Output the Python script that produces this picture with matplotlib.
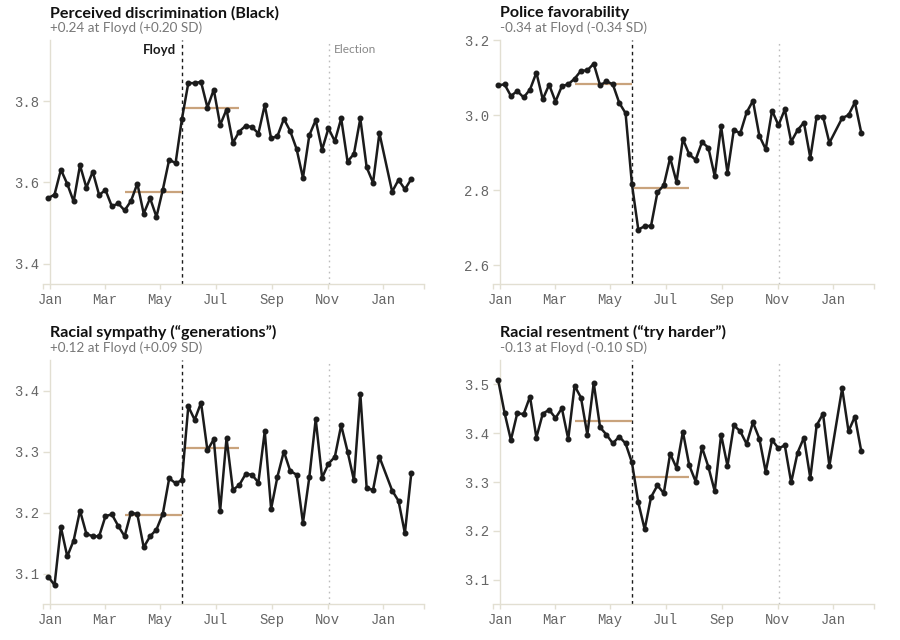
import numpy as np
import pandas as pd
import matplotlib
matplotlib.use("Agg")
import matplotlib.pyplot as plt
import matplotlib.dates as mdates

# weekly survey waves (the week of 2021-01-04 is missing)
weeks = pd.date_range("2019-12-30", periods=58, freq="7D")
weeks = weeks[weeks != pd.Timestamp("2021-01-04")]

floyd_date = pd.Timestamp("2020-05-25")
election_date = pd.Timestamp("2020-11-03")

# windows for the before/after means
pre_window = (pd.Timestamp("2020-03-23"), pd.Timestamp("2020-05-25"))
post_window = (pd.Timestamp("2020-05-27"), pd.Timestamp("2020-07-27"))

titles = [
    "Perceived discrimination (Black)",
    "Police favorability",
    "Racial sympathy (\u201cgenerations\u201d)",
    "Racial resentment (\u201ctry harder\u201d)",
]
subtitles = [
    "+0.24 at Floyd (+0.20 SD)",
    "-0.34 at Floyd (-0.34 SD)",
    "+0.12 at Floyd (+0.09 SD)",
    "-0.13 at Floyd (-0.10 SD)",
]

discrimination = [3.561, 3.570, 3.631, 3.596, 3.553, 3.642, 3.587, 3.626, 3.569, 3.581,
                  3.541, 3.548, 3.531, 3.554, 3.597, 3.523, 3.561, 3.515, 3.582, 3.656,
                  3.647, 3.756, 3.844, 3.844, 3.847, 3.784, 3.828, 3.741, 3.779, 3.697,
                  3.725, 3.739, 3.736, 3.720, 3.790, 3.708, 3.714, 3.756, 3.726, 3.682,
                  3.611, 3.716, 3.753, 3.680, 3.733, 3.701, 3.757, 3.651, 3.670, 3.757,
                  3.637, 3.599, 3.721, 3.577, 3.606, 3.583, 3.608]
police = [3.079, 3.082, 3.051, 3.064, 3.047, 3.068, 3.113, 3.042, 3.081, 3.036,
          3.077, 3.082, 3.097, 3.118, 3.119, 3.137, 3.079, 3.090, 3.082, 3.033,
          3.005, 2.816, 2.695, 2.704, 2.705, 2.794, 2.813, 2.886, 2.822, 2.936,
          2.895, 2.881, 2.928, 2.913, 2.837, 2.970, 2.846, 2.961, 2.951, 3.007,
          3.038, 2.945, 2.909, 3.012, 2.973, 3.015, 2.929, 2.960, 2.980, 2.886,
          2.996, 2.996, 2.926, 2.992, 3.000, 3.034, 2.953]
sympathy = [3.095, 3.081, 3.176, 3.128, 3.154, 3.203, 3.165, 3.161, 3.161, 3.194,
            3.197, 3.178, 3.161, 3.200, 3.197, 3.143, 3.161, 3.172, 3.198, 3.256,
            3.248, 3.253, 3.374, 3.352, 3.380, 3.302, 3.320, 3.203, 3.322, 3.237,
            3.245, 3.263, 3.262, 3.249, 3.333, 3.206, 3.259, 3.300, 3.268, 3.262,
            3.183, 3.258, 3.353, 3.257, 3.280, 3.291, 3.343, 3.300, 3.253, 3.395,
            3.240, 3.237, 3.291, 3.236, 3.219, 3.166, 3.264]
resentment = [3.509, 3.442, 3.386, 3.441, 3.439, 3.475, 3.391, 3.440, 3.448, 3.431,
              3.451, 3.388, 3.497, 3.473, 3.397, 3.503, 3.412, 3.397, 3.379, 3.393,
              3.379, 3.340, 3.258, 3.203, 3.269, 3.293, 3.277, 3.358, 3.329, 3.403,
              3.334, 3.301, 3.371, 3.331, 3.281, 3.397, 3.333, 3.416, 3.404, 3.378,
              3.422, 3.389, 3.321, 3.386, 3.369, 3.375, 3.299, 3.360, 3.391, 3.308,
              3.416, 3.440, 3.333, 3.492, 3.404, 3.434, 3.363]
series = [discrimination, police, sympathy, resentment]

pre_means = [3.577, 3.082, 3.196, 3.425]
post_means = [3.784, 2.806, 3.305, 3.310]

ylims = [(3.35, 3.95), (2.55, 3.20), (3.05, 3.45), (3.05, 3.55)]
yticks = [[3.4, 3.6, 3.8], [2.6, 2.8, 3.0, 3.2], [3.1, 3.2, 3.3, 3.4], [3.1, 3.2, 3.3, 3.4, 3.5]]

xlim = (pd.Timestamp("2019-12-24"), pd.Timestamp("2021-02-15"))
yaxis_at = pd.Timestamp("2020-01-01")

spine_c = "#e2dfd2"
tan = "#c9a37c"
ink = "#1b1b1b"

plt.rcParams["font.family"] = ["Lato", "DejaVu Sans"]

fig = plt.figure(figsize=(9, 6.4), dpi=100)
W, H = 900, 640
# pixel boxes of each panel: (left, top)
boxes = [(42.7, 40), (492.7, 40), (42.7, 360), (492.7, 360)]
pw, ph = 381.3, 244

for i in range(4):
    left, top = boxes[i]
    ax = fig.add_axes([left / W, 1 - (top + ph) / H, pw / W, ph / H])
    ax.set_xlim(*xlim)
    ax.set_ylim(*ylims[i])

    ax.axvline(floyd_date, color=ink, lw=1, ls=(0, (2.5, 2.5)), zorder=1)
    ax.axvline(election_date, color="#bdbdbd", lw=1, ls=(0, (1.2, 2.8)), zorder=1)

    ax.hlines(pre_means[i], pre_window[0], pre_window[1], color=tan, lw=1.6, zorder=2)
    ax.hlines(post_means[i], post_window[0], post_window[1], color=tan, lw=1.6, zorder=2)

    ax.plot(weeks, series[i], color=ink, lw=1.8, marker="o", ms=3.3,
            solid_joinstyle="round", zorder=3)

    for s in ["top", "right"]:
        ax.spines[s].set_visible(False)
    ax.spines["left"].set_position(("data", mdates.date2num(yaxis_at)))
    for s in ["left", "bottom"]:
        ax.spines[s].set_color(spine_c)
        ax.spines[s].set_linewidth(1)

    ax.set_yticks(yticks[i])
    ax.set_yticklabels([f"{v:.1f}" for v in yticks[i]])
    ax.xaxis.set_major_locator(mdates.MonthLocator(bymonth=[1, 3, 5, 7, 9, 11]))
    ax.xaxis.set_major_formatter(mdates.DateFormatter("%b"))
    ax.set_xticks([mdates.date2num(xlim[0]), mdates.date2num(xlim[1])], minor=True)
    ax.tick_params(axis="y", length=5, width=1, color=spine_c, pad=2.5,
                   labelsize=10, labelcolor="#666666")
    ax.tick_params(axis="x", which="both", length=3.8, width=1, color=spine_c, pad=2.5,
                   labelsize=10, labelcolor="#666666")
    for lab in ax.get_xticklabels() + ax.get_yticklabels():
        lab.set_family("Liberation Mono")

    fig.text((left + 7.3) / W, 1 - (top - 22.5) / H, titles[i], fontsize=11.6,
             fontweight="bold", color="#111111", va="baseline", ha="left")
    fig.text((left + 7.3) / W, 1 - (top - 7.5) / H, subtitles[i], fontsize=9.7,
             color="#777777", va="baseline", ha="left")

    if i == 0:
        ax.annotate("Floyd", xy=(floyd_date, ylims[i][1]), xytext=(-4.5, -3),
                    textcoords="offset points", fontsize=9.5, fontweight="bold",
                    color=ink, ha="right", va="top")
        ax.annotate("Election", xy=(election_date, ylims[i][1]), xytext=(3.5, -3),
                    textcoords="offset points", fontsize=8.6, color="#888888",
                    ha="left", va="top")

fig.savefig("out.png", dpi=100, facecolor="white")
